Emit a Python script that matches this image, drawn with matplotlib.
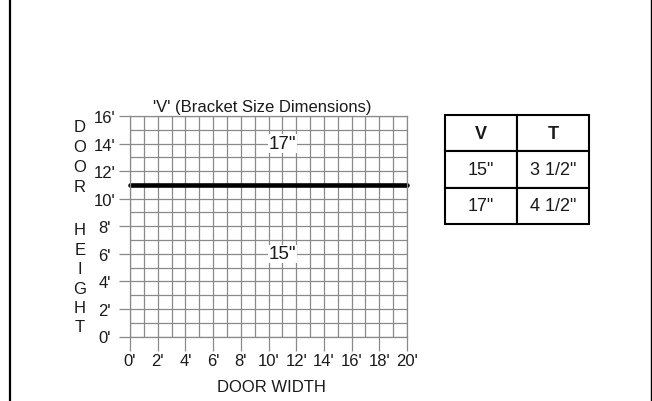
import numpy as np
import matplotlib.pyplot as plt
from matplotlib.lines import Line2D

plt.rcParams["font.family"] = ["Liberation Sans", "DejaVu Sans"]

# chart values
width_ft = list(range(0, 21))          # door width, feet
height_ft = list(range(0, 17))         # door height, feet
width_labels = [f"{w}'" for w in width_ft[::2]]
height_labels = [f"{h}'" for h in height_ft[::2]]
split_height = 11                      # above this height the bigger bracket is used
zone_labels = ['15"', '17"']
zone_x = [11, 11]
zone_y = [6, 14]
table_cols = ["V", "T"]
v_sizes = ['15"', '17"']
t_sizes = ['3 1/2"', '4 1/2"']

W, H = 652, 402
fig = plt.figure(figsize=(W / 100, H / 100), dpi=100)
grey = "#8a8a8a"
ink = "#1a1a1a"

ax = fig.add_axes([130 / W, (H - 337.5) / H, 277 / W, 220.5 / H])
ax.set_xlim(width_ft[0], width_ft[-1])
ax.set_ylim(height_ft[0], height_ft[-1])
ax.set_xticks(width_ft[::2], width_labels)
ax.set_yticks(height_ft[::2], height_labels)
ax.set_xticks(width_ft, minor=True)
ax.set_yticks(height_ft, minor=True)
ax.grid(which="both", color=grey, lw=0.9)
ax.set_axisbelow(True)
for s in ax.spines.values():
    s.set_color(grey)
    s.set_linewidth(0.9)
ax.tick_params(which="minor", length=0)
ax.tick_params(axis="x", which="major", length=10, width=0.9, color=grey,
               labelsize=12, pad=2, labelcolor=ink)
ax.tick_params(axis="y", which="major", length=8, width=0.9, color=grey,
               labelsize=12, pad=10.4, labelcolor=ink)
for lab in ax.get_yticklabels():
    lab.set_horizontalalignment("center")

ax.plot([width_ft[0], width_ft[-1]], [split_height, split_height],
        color="black", lw=3.3, solid_capstyle="round", clip_on=False)

for txt, x, y in zip(zone_labels, zone_x, zone_y):
    ax.text(x, y, txt, ha="center", va="center", fontsize=13.5, color=ink,
            bbox=dict(fc="white", ec="none", pad=0.5))

ax.text(0.4765, 1.023, "'V' (Bracket Size Dimensions)", transform=ax.transAxes,
        ha="center", va="baseline", fontsize=12, color=ink)
ax.text(0.51, -0.247, "DOOR WIDTH", transform=ax.transAxes,
        ha="center", va="baseline", fontsize=12, color=ink)

# stacked vertical axis title
for i, ch in enumerate("DOOR"):
    fig.text(80 / W, 1 - (128 + 19.7 * i) / H, ch, ha="center", va="center",
             fontsize=12, color=ink)
for i, ch in enumerate("HEIGHT"):
    fig.text(80 / W, 1 - (231 + 19.4 * i) / H, ch, ha="center", va="center",
             fontsize=12, color=ink)

# size table
tax = fig.add_axes([445 / W, (H - 225) / H, 144 / W, 109 / H])
tax.axis("off")
tab = tax.table(cellText=[[v, t] for v, t in zip(v_sizes, t_sizes)],
                colLabels=table_cols, cellLoc="center", bbox=[0, 0, 1, 1])
tab.auto_set_font_size(False)
for (r, c), cell in tab.get_celld().items():
    cell.set_linewidth(1.5)
    cell.set_edgecolor("black")
    cell.get_text().set_fontsize(13)
    cell.get_text().set_color(ink)
    if r == 0:
        cell.get_text().set_fontweight("bold")

# page edge lines
fig.add_artist(Line2D([9.5 / W, 9.5 / W], [0, 1], color="black", lw=1.6))
fig.add_artist(Line2D([650.5 / W, 650.5 / W], [0, 1], color="black", lw=1.0))

fig.savefig("out.png", dpi=100)
